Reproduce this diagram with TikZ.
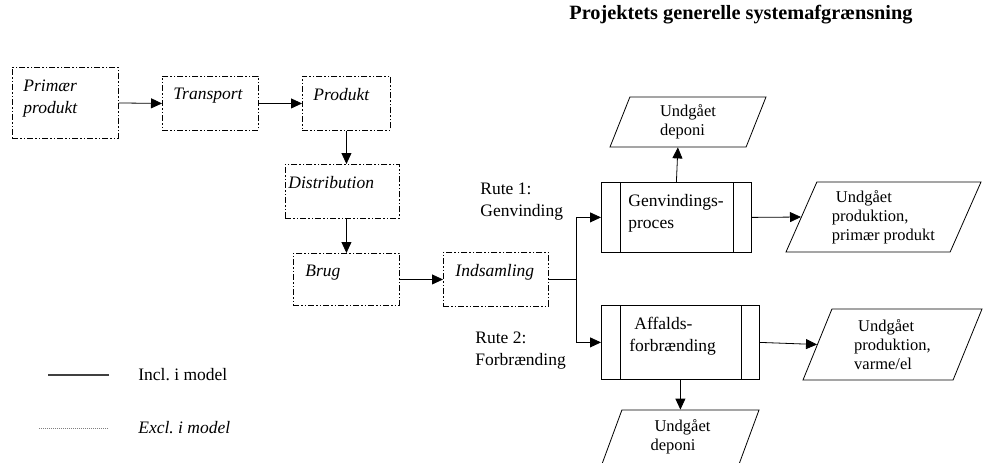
\documentclass[tikz,border=0pt]{standalone}
\usepackage{fontspec}
\setmainfont{Liberation Serif}
\usetikzlibrary{arrows.meta,shapes.geometric}
\newcommand{\boxtext}[4]{\parbox[c][#2pt][t]{#1pt}{\raggedright\leftskip=#3pt\vspace*{12pt}#4}}
\tikzset{
  exclbox/.style={draw, anchor=north west, inner sep=0pt, line width=0.9pt,
    dash pattern=on 6pt off 2pt on 1.5pt off 2pt on 1.5pt off 2pt, font=\itshape},
  procbox/.style={draw, anchor=north west, inner sep=0pt,
    path picture={
      \draw ([xshift=19pt]path picture bounding box.north west) -- ([xshift=19pt]path picture bounding box.south west);
      \draw ([xshift=-18pt]path picture bounding box.north east) -- ([xshift=-18pt]path picture bounding box.south east);}},
  outbox/.style={draw, trapezium, trapezium left angle=60, trapezium right angle=120,
    trapezium stretches body, inner sep=0pt, align=left,
    font=\fontsize{16.5}{19}\selectfont}
}
\begin{document}
\frenchspacing
\fontsize{17.5}{22}\selectfont
\begin{tikzpicture}[x=1pt, y=-1pt, line width=0.8pt, >={Triangle[length=11pt,width=10pt]}]
\useasboundingbox (0,0) rectangle (983,463);
\node[font=\bfseries\fontsize{20.3}{24}\selectfont] (title) at (741,15) {Projektets generelle systemafgrænsning};
\node[exclbox] (prim) at (12,67) {\boxtext{106}{71}{11}{Primær\\produkt}};
\node[exclbox] (trans) at (162,76) {\boxtext{96}{54}{11}{Transport}};
\node[exclbox] (prod) at (302,76) {\boxtext{88}{54}{11}{Produkt}};
\node[exclbox] (dist) at (285,164) {\boxtext{114}{54}{3}{Distribution}};
\node[exclbox] (brug) at (293,253) {\boxtext{106}{52}{12}{Brug}};
\node[exclbox] (inds) at (443,252) {\boxtext{105}{54}{12}{Indsamling}};
\node[procbox] (genv) at (601,182) {\boxtext{150}{70}{27}{Genvindings-\\proces}};
\node[procbox] (affald) at (601,305) {\boxtext{158}{74}{28}{\hspace*{5pt}Affalds-\\forbrænding}};
\node[outbox, minimum width=156pt, minimum height=50pt] (depo1) at (688,122) {Undgået\\deponi};
\node[outbox, minimum width=195pt, minimum height=70pt] (prodout) at (883.5,217) {\hspace*{4pt}Undgået\\produktion,\\primær produkt};
\node[outbox, minimum width=179pt, minimum height=71pt] (varme) at (892.5,344.5) {\hspace*{4pt}Undgået\\produktion,\\varme/el};
\node[outbox, minimum width=157pt, minimum height=54pt] (depo2) at (680.5,437) {\hspace*{4pt}Undgået\\deponi};
\node[anchor=north west, align=left, inner sep=0pt] (rute1) at (480,183) {Rute 1:\\Genvinding};
\node[anchor=north west, align=left, inner sep=0pt] (rute2) at (475,332) {Rute 2:\\Forbrænding};
\node[anchor=west, inner sep=0pt] (incl) at (138,375) {Incl. i model};
\node[anchor=west, inner sep=0pt, font=\itshape] (excl) at (138,428) {Excl. i model};
\coordinate (split) at ([xshift=27pt]inds.east);
\draw[->] (prim.east) -- (trans.west);
\draw[->] (trans.east) -- (prod.west);
\draw[->] (prod.south) -- (prod.south |- dist.north);
\draw[->] (dist.south -| brug.north) -- (brug.north);
\draw[->] (brug.east) -- (inds.west);
\draw (inds.east) -- (split);
\draw[->] (split) |- (genv.west);
\draw[->] (split) |- (affald.west);
\draw[->] (genv.north) -- (depo1.bottom side);
\draw[->] (genv.east) -- (prodout.left side);
\draw[->] (affald.east) -- (varme.left side);
\draw[->] (affald.south) -- (affald.south |- depo2.top side);
\draw[line width=1.3pt, black!75] ([xshift=-29pt]incl.west) -- ([xshift=-90pt]incl.west);
\draw[line width=0.6pt, gray, dash pattern=on 1pt off 1pt] ([xshift=-30pt]excl.west) -- ([xshift=-100pt]excl.west);
\end{tikzpicture}
\end{document}
